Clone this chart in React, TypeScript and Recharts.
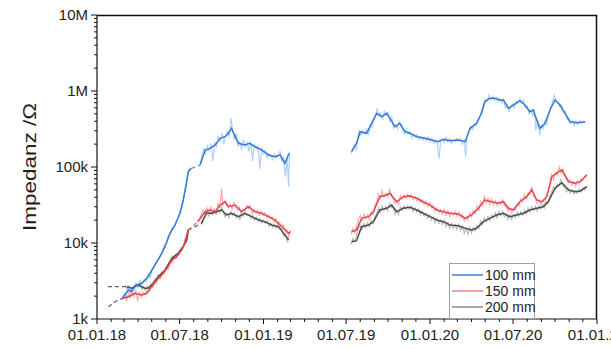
import { LineChart, Line, XAxis, YAxis, Legend } from "recharts";

// x values are days counted from 01.01.18
type Pt = [number, number | null];

const blueSmooth: Pt[] = [
  [55, 1870], [69, 2410], [75, 2290], [83, 2720], [98, 2950], [112, 3600], [127, 5140], [138, 6600],
  [149, 8940], [160, 13400], [171, 17250], [182, 24600], [189, 36800], [196, 61000], [200, 86800],
  [207, 96100], [215, null], [226, 106000], [237, 167500], [248, 176000], [259, 195000], [270, 238600],
  [281, 250600], [288, 277500], [295, 323000], [303, 250600], [310, 205000], [324, 195000], [335, 205000],
  [346, 185000], [361, 167500], [376, 144000], [390, 136700], [401, 144000], [412, 112000], [421, 151400],
  [500, null],
  [558, 158900], [569, 205000], [577, 291400], [591, 277500], [602, 375800], [613, 508900], [624, 459000],
  [635, 508900], [642, 437400], [653, 339100], [664, 375800], [675, 291400], [686, 277500], [701, 250600],
  [719, 238500], [734, 226600], [748, 215200], [759, 231400], [774, 221800], [792, 226600], [807, 215200],
  [818, 323000], [832, 375800], [843, 508900], [850, 722900], [861, 801700], [872, 801700], [883, 761300],
  [891, 761300], [902, 592100], [913, 654300], [927, 745300], [938, 654300], [949, 534100], [956, 562300],
  [964, 415400], [971, 323000], [982, 375800], [993, 562300], [1004, 761300], [1015, 654300], [1026, 508900],
  [1037, 394600], [1052, 382700], [1070, 394600],
];

const redSmooth: Pt[] = [
  [57, 1870], [69, 1965], [83, 2180], [98, 2070], [109, 2180], [120, 2660], [131, 3260], [142, 3790],
  [153, 4650], [164, 5975], [175, 6600], [186, 8090], [193, 10400], [200, 14800], [210, null],
  [221, 19070], [237, 25800], [248, 27200], [259, 25800], [270, 31600], [281, 34900], [288, 30000],
  [303, 31600], [317, 25800], [332, 30000], [346, 25800], [361, 24600], [376, 22200], [390, 20070],
  [405, 16400], [420, 13400], [424, 14100], [500, null],
  [558, 14100], [569, 14800], [580, 21130], [595, 22200], [606, 25800], [620, 40670], [635, 42810],
  [642, 45080], [657, 34900], [671, 40670], [686, 41540], [701, 38740], [715, 34900], [730, 31600],
  [745, 27200], [759, 25800], [774, 24600], [792, 24070], [807, 21130], [821, 23350], [836, 28610],
  [850, 36800], [865, 34900], [880, 33300], [891, 34900], [902, 28610], [913, 27200], [927, 34900],
  [942, 40670], [953, 49820], [964, 36800], [975, 34900], [986, 40670], [997, 74530], [1012, 86800],
  [1019, 91300], [1034, 64060], [1048, 61040], [1059, 64060], [1074, 78470],
];

const greySmooth: Pt[] = [
  [65, 2660], [76, 2535], [90, 2800], [105, 2535], [112, 2535], [123, 2950], [134, 3600], [149, 4410],
  [164, 6290], [178, 7320], [189, 8940], [197, 10950], [200, 14800], [215, null], [229, 18160],
  [240, 24600], [251, 24600], [262, 25800], [273, 27200], [284, 23350], [295, 24600], [310, 22200],
  [324, 24600], [339, 22200], [354, 20070], [368, 19070], [383, 17250], [398, 16400], [409, 13400],
  [420, 10950], [500, null],
  [558, 10400], [569, 10720], [580, 16400], [595, 17250], [606, 19070], [620, 27200], [635, 28610],
  [646, 31600], [657, 25800], [671, 28610], [686, 29500], [701, 27200], [715, 24600], [730, 22200],
  [745, 20070], [759, 19070], [774, 17250], [792, 16890], [807, 15610], [821, 14800], [832, 15610],
  [847, 19070], [861, 21130], [876, 23350], [891, 24600], [905, 22200], [920, 23350], [935, 24600],
  [949, 27200], [964, 28610], [978, 30030], [989, 34900], [1004, 52450], [1019, 62160], [1034, 49820],
  [1048, 47320], [1059, 48330], [1074, 55060],
];

// bridged gaps in the logger data
const blueDash: Pt[] = [[25, 1450], [40, 1700], [55, 1870], [56, null], [207, 96100], [226, 106000]];
const redDash: Pt[] = [[25, 1450], [40, 1700], [57, 1870], [58, null], [200, 14800], [221, 19070]];
const greyDash: Pt[] = [[24, 2660], [65, 2660], [66, null], [200, 14800], [229, 18160]];

// raw readings (faint)
const blueRaw: Pt[] = [
  [55, 1800], [60, 2150], [64, 2000], [68, 2600], [72, 2200], [76, 2500], [80, 2350], [85, 3000],
  [89, 2600], [94, 3200], [99, 2800], [103, 3300], [108, 3100], [112, 3900], [117, 3500], [121, 4500],
  [125, 4900], [130, 5600], [134, 5900], [139, 7000], [143, 7300], [147, 9500], [152, 9800], [156, 12500],
  [161, 13000], [165, 16000], [170, 16200], [174, 19500], [179, 22000], [183, 27500], [187, 30000],
  [191, 42000], [194, 52000], [198, 72000], [202, 95000], [206, 90000], [215, null],
  [226, 110000], [230, 140000], [234, 175000], [238, 150000], [242, 190000], [246, 160000], [250, 205000],
  [254, 120000], [258, 210000], [262, 185000], [266, 260000], [270, 220000], [274, 280000], [278, 200000],
  [282, 265000], [286, 300000], [290, 250000], [294, 440000], [297, 300000], [301, 230000], [305, 280000],
  [309, 190000], [313, 215000], [317, 170000], [321, 230000], [325, 185000], [329, 210000], [333, 160000],
  [337, 215000], [341, 120000], [345, 200000], [349, 175000], [353, 190000], [357, 95000], [361, 180000],
  [365, 150000], [369, 165000], [373, 130000], [377, 150000], [381, 140000], [385, 125000], [389, 150000],
  [393, 130000], [397, 145000], [401, 160000], [405, 120000], [409, 135000], [413, 75000], [417, 130000],
  [420, 55000], [422, 160000], [500, null],
  [557, 150000], [561, 175000], [565, 200000], [568, 165000], [572, 240000], [575, 310000], [579, 260000],
  [583, 300000], [587, 270000], [591, 320000], [595, 260000], [599, 350000], [603, 330000], [607, 430000],
  [611, 470000], [614, 600000], [618, 480000], [622, 520000], [626, 420000], [630, 540000], [634, 480000],
  [638, 520000], [642, 400000], [646, 450000], [650, 320000], [654, 360000], [658, 320000], [662, 400000],
  [666, 350000], [670, 310000], [674, 270000], [678, 320000], [682, 270000], [686, 290000], [690, 240000],
  [694, 270000], [698, 250000], [702, 265000], [706, 230000], [710, 250000], [714, 225000], [718, 245000],
  [722, 220000], [726, 250000], [730, 215000], [734, 240000], [738, 205000], [742, 225000], [746, 200000],
  [750, 130000], [753, 215000], [757, 230000], [761, 210000], [765, 245000], [769, 215000], [773, 235000],
  [777, 205000], [781, 230000], [785, 215000], [789, 240000], [793, 220000], [797, 235000], [801, 200000],
  [805, 225000], [808, 135000], [811, 250000], [815, 300000], [819, 340000], [823, 310000], [827, 370000],
  [831, 350000], [835, 420000], [839, 470000], [843, 560000], [847, 650000], [851, 780000], [855, 720000],
  [859, 880000], [863, 760000], [867, 850000], [871, 740000], [875, 830000], [879, 720000], [883, 800000],
  [887, 700000], [891, 780000], [895, 600000], [899, 650000], [903, 540000], [907, 620000], [911, 680000],
  [915, 600000], [919, 720000], [923, 690000], [927, 800000], [931, 700000], [935, 760000], [939, 600000],
  [943, 640000], [947, 500000], [951, 560000], [955, 470000], [959, 580000], [962, 300000], [966, 420000],
  [970, 260000], [974, 350000], [978, 320000], [982, 400000], [986, 360000], [990, 480000], [994, 600000],
  [998, 700000], [1002, 880000], [1006, 760000], [1010, 700000], [1014, 620000], [1018, 660000],
  [1022, 520000], [1026, 540000], [1030, 430000], [1034, 410000], [1038, 370000], [1042, 410000],
  [1046, 350000], [1050, 400000], [1054, 360000], [1058, 410000], [1062, 370000], [1066, 400000],
  [1070, 380000],
];

const redRaw: Pt[] = [
  [57, 1850], [61, 2100], [65, 1750], [69, 2200], [73, 1900], [77, 2300], [81, 2000], [85, 2400],
  [89, 1700], [93, 2300], [97, 1950], [101, 2250], [106, 2100], [110, 2400], [114, 2300], [118, 2900],
  [122, 2600], [127, 3300], [131, 3000], [135, 3600], [139, 3400], [144, 4100], [148, 3900], [152, 4800],
  [156, 4500], [161, 5700], [165, 5500], [169, 6600], [173, 6200], [177, 7200], [181, 7600], [185, 8800],
  [189, 8500], [193, 11500], [197, 12500], [200, 15500], [210, null],
  [221, 19500], [225, 21000], [229, 24000], [233, 27500], [237, 24500], [241, 29000], [245, 25000],
  [249, 30000], [253, 26000], [257, 28000], [261, 24500], [265, 33000], [269, 29000], [273, 52000],
  [276, 31000], [280, 36000], [284, 32000], [288, 29000], [292, 33000], [296, 28000], [300, 34000],
  [304, 30000], [308, 27000], [312, 29500], [316, 24000], [320, 28000], [324, 26500], [328, 31500],
  [332, 28000], [336, 31000], [340, 24000], [344, 27500], [348, 25500], [352, 27000], [356, 23500],
  [360, 26000], [364, 23000], [368, 25000], [372, 21500], [376, 23500], [380, 21000], [384, 22500],
  [388, 19000], [392, 21000], [396, 17500], [400, 19000], [404, 16500], [408, 17500], [412, 14500],
  [416, 15000], [420, 12000], [424, 14500], [500, null],
  [557, 13000], [561, 15500], [565, 13500], [569, 16500], [573, 20500], [577, 23000], [581, 19500],
  [585, 24000], [589, 21000], [593, 23500], [597, 20500], [601, 26000], [605, 23500], [609, 31000],
  [613, 35000], [617, 44000], [621, 38000], [625, 48000], [629, 40000], [633, 45000], [637, 41000],
  [641, 52000], [645, 42000], [649, 38000], [653, 33000], [657, 36000], [661, 32000], [665, 42000],
  [669, 38000], [673, 43000], [677, 39000], [681, 44000], [685, 40000], [689, 43000], [693, 37000],
  [697, 41000], [701, 36000], [705, 39000], [709, 34000], [713, 37000], [717, 32000], [721, 35000],
  [725, 30000], [729, 34000], [733, 29000], [737, 31000], [741, 26000], [745, 29000], [749, 25000],
  [753, 27500], [757, 24000], [761, 28000], [765, 23000], [769, 26500], [773, 22500], [777, 25500],
  [781, 23000], [785, 26000], [789, 22500], [793, 25500], [797, 22000], [801, 24000], [805, 19500],
  [809, 22000], [813, 20000], [817, 25000], [821, 22000], [825, 27000], [829, 24500], [833, 31000],
  [837, 27000], [841, 35000], [845, 31000], [849, 42000], [853, 34000], [857, 39000], [861, 32000],
  [865, 38000], [869, 31000], [873, 36000], [877, 31000], [881, 35000], [885, 32000], [889, 37000],
  [893, 31000], [897, 30000], [901, 26000], [905, 29000], [909, 25000], [913, 29000], [917, 27000],
  [921, 33000], [925, 31000], [929, 38000], [933, 35000], [937, 43000], [941, 38000], [945, 46000],
  [949, 44000], [953, 55000], [957, 42000], [961, 38000], [965, 33000], [969, 37000], [973, 32000],
  [977, 36000], [981, 34000], [985, 42000], [989, 48000], [993, 60000], [997, 80000], [1001, 68000],
  [1005, 85000], [1009, 78000], [1013, 100000], [1017, 84000], [1021, 95000], [1025, 76000],
  [1029, 70000], [1033, 62000], [1037, 68000], [1041, 58000], [1045, 64000], [1049, 56000],
  [1053, 66000], [1057, 60000], [1061, 70000], [1065, 66000], [1069, 76000], [1073, 80000],
];

const greyRaw: Pt[] = [
  [62, 2800], [66, 2450], [70, 2750], [74, 2400], [78, 2650], [82, 2450], [86, 2950], [90, 2650],
  [94, 2900], [98, 2450], [102, 2650], [106, 2400], [110, 2700], [114, 2500], [118, 2800], [122, 2750],
  [126, 3200], [130, 3100], [134, 3800], [138, 3500], [142, 4100], [146, 4000], [150, 4700], [154, 4600],
  [158, 5500], [162, 5800], [166, 6700], [170, 6500], [174, 7200], [178, 7000], [182, 7800], [186, 8400],
  [190, 9300], [194, 10000], [197, 11500], [200, 14000], [215, null],
  [229, 17500], [233, 21000], [237, 23000], [241, 26000], [245, 22500], [249, 25500], [253, 23500],
  [257, 26500], [261, 24000], [265, 27000], [269, 25000], [273, 29500], [277, 25500], [281, 22000],
  [285, 24500], [289, 21500], [293, 26000], [297, 23000], [301, 25000], [305, 21500], [309, 23000],
  [313, 20500], [317, 23500], [321, 22500], [325, 25500], [329, 23000], [333, 24000], [337, 21000],
  [341, 23000], [345, 20000], [349, 22000], [353, 19500], [357, 21000], [361, 18500], [365, 20000],
  [369, 18000], [373, 19500], [377, 16500], [381, 18000], [385, 16000], [389, 17500], [393, 15500],
  [397, 17000], [401, 15000], [405, 15500], [409, 12500], [413, 13500], [417, 10500], [420, 11500],
  [500, null],
  [557, 9500], [561, 11500], [565, 10500], [569, 12500], [573, 15500], [577, 17500], [581, 15000],
  [585, 18000], [589, 16000], [593, 18500], [597, 16500], [601, 20000], [605, 18000], [609, 22000],
  [613, 24500], [617, 29000], [621, 25000], [625, 31000], [629, 27000], [633, 30000], [637, 26500],
  [641, 33000], [645, 29000], [649, 30000], [653, 24000], [657, 27000], [661, 23500], [665, 30000],
  [669, 27000], [673, 31000], [677, 28000], [681, 31000], [685, 28000], [689, 30500], [693, 26000],
  [697, 29000], [701, 25500], [705, 27500], [709, 23500], [713, 26000], [717, 22500], [721, 24500],
  [725, 21000], [729, 23500], [733, 20000], [737, 22000], [741, 18500], [745, 21000], [749, 18000],
  [753, 20000], [757, 17500], [761, 20000], [765, 16500], [769, 18500], [773, 15500], [777, 18000],
  [781, 15500], [785, 17500], [789, 15000], [793, 17500], [797, 14500], [801, 16500], [805, 13500],
  [809, 15500], [813, 13000], [817, 16000], [821, 13500], [825, 16000], [829, 14500], [833, 17000],
  [837, 15500], [841, 19500], [845, 17500], [849, 21500], [853, 19000], [857, 22500], [861, 19500],
  [865, 23500], [869, 21000], [873, 25000], [877, 21500], [881, 26000], [885, 23000], [889, 26000],
  [893, 22000], [897, 24000], [901, 20500], [905, 23500], [909, 20500], [913, 24000], [917, 21500],
  [921, 25500], [925, 22500], [929, 26000], [933, 23000], [937, 27000], [941, 24000], [945, 29000],
  [949, 25500], [953, 30000], [957, 27000], [961, 30500], [965, 26500], [969, 31000], [973, 28000],
  [977, 32000], [981, 29000], [985, 35000], [989, 33000], [993, 42000], [997, 48000], [1001, 55000],
  [1005, 52000], [1009, 60000], [1013, 58000], [1017, 68000], [1021, 57000], [1025, 54000],
  [1029, 47000], [1033, 52000], [1037, 45000], [1041, 50000], [1045, 44000], [1049, 49000],
  [1053, 45000], [1057, 51000], [1061, 47000], [1065, 53000], [1069, 50000], [1073, 56000],
];

const legendLabels = ["100 mm", "150 mm", "200 mm"];
const legendColors = ["#3d7fd6", "#e8868a", "#8a8a8a"];

const yMajor = [1e3, 1e4, 1e5, 1e6, 1e7];
const yMajorLabels = ["1k", "10k", "100k", "1M", "10M"];
const yTicks: number[] = [];
yMajor.slice(0, 4).forEach((dec) => {
  for (let k = 1; k < 10; k++) yTicks.push(k * dec);
});
yTicks.push(1e7);

const START = Date.UTC(2018, 0, 1);
const xTicks: number[] = [];
const xLabels = new Map<number, string>();
for (let y = 2018; y <= 2021; y++) {
  for (let m = 0; m < 12; m++) {
    if (y === 2021 && m > 0) break;
    const d = Math.round((Date.UTC(y, m, 1) - START) / 86400000);
    xTicks.push(d);
    if (m === 0 || m === 6) {
      xLabels.set(d, `01.${m === 0 ? "01" : "07"}.${String(y).slice(2)}`);
    }
  }
}
const X_END = xTicks[xTicks.length - 1];

const rows = (a: Pt[]) => a.map(([d, v]) => ({ d, v }));

const FONT = "'Liberation Sans', Arial, sans-serif";

// chart layout
const W = 611;
const H = 349;
const MARGIN = { top: 15, right: 14, left: 0, bottom: 0 };
const Y_AXIS_W = 97;
const X_AXIS_H = 30;

const XTick = (props: any) => {
  const { x, y, payload } = props;
  const lab = xLabels.get(payload.value);
  return (
    <g>
      <line x1={x} x2={x} y1={y} y2={y + (lab ? 5 : 3)} stroke="#111" strokeWidth={1} />
      {lab && (
        <text x={x} y={y + 21} textAnchor="middle" fontSize={15} fill="#222" fontFamily={FONT}>
          {lab}
        </text>
      )}
    </g>
  );
};

const YTick = (props: any) => {
  const { x, y, payload } = props;
  const i = yMajor.indexOf(payload.value);
  return (
    <g>
      <line x1={x} x2={x - (i >= 0 ? 6 : 3)} y1={y} y2={y} stroke="#111" strokeWidth={1} />
      {i >= 0 && (
        <text x={x - 9} y={y + 5} textAnchor="end" fontSize={15} fill="#222" fontFamily={FONT}>
          {yMajorLabels[i]}
        </text>
      )}
    </g>
  );
};

const YLabel = (props: any) => {
  const { viewBox } = props;
  const cx = viewBox.x + 36;
  const cy = viewBox.y + viewBox.height / 2;
  return (
    <text
      x={cx}
      y={cy}
      transform={`rotate(-90 ${cx} ${cy})`}
      textAnchor="middle"
      fontSize={18}
      textLength={128}
      lengthAdjust="spacingAndGlyphs"
      fill="#222"
      fontFamily={FONT}
    >
      Impedanz /Ω
    </text>
  );
};

const LegendBox = () => (
  <div
    style={{
      width: 86,
      boxSizing: "border-box",
      border: "1px solid #a0a0a0",
      background: "#fff",
      padding: "3px 2px",
      fontFamily: FONT,
      fontSize: 14,
      color: "#222",
      lineHeight: "16px",
      whiteSpace: "nowrap",
    }}
  >
    {legendLabels.map((l, i) => (
      <div key={l} style={{ display: "flex", alignItems: "center" }}>
        <svg width={31} height={4} style={{ flexShrink: 0, marginRight: 2 }}>
          <line x1={0} x2={31} y1={2} y2={2} stroke={legendColors[i]} strokeWidth={1.5} />
        </svg>
        <span>{l}</span>
      </div>
    ))}
  </div>
);

const lineProps = { dataKey: "v", dot: false, isAnimationActive: false, connectNulls: false } as const;

export default function App() {
  // plot frame box, derived from the chart layout constants
  const plotLeft = MARGIN.left + Y_AXIS_W;
  const plotTop = MARGIN.top;
  const plotRight = W - MARGIN.right;
  const plotBottom = H - MARGIN.bottom - X_AXIS_H;
  return (
    <div style={{ position: "absolute", left: 0, top: 0, width: W, height: H, background: "#fff" }}>
      <LineChart width={W} height={H} margin={MARGIN}>
        <XAxis
          dataKey="d"
          type="number"
          domain={[0, X_END]}
          ticks={xTicks}
          interval={0}
          allowDataOverflow
          height={X_AXIS_H}
          tickSize={0}
          tickMargin={0}
          tick={<XTick />}
          axisLine={{ stroke: "#111", strokeWidth: 1.2 }}
        />
        <YAxis
          type="number"
          scale="log"
          domain={[1e3, 1e7]}
          ticks={yTicks}
          interval={0}
          allowDataOverflow
          width={Y_AXIS_W}
          tickSize={0}
          tickMargin={0}
          tick={<YTick />}
          axisLine={{ stroke: "#111", strokeWidth: 1.2 }}
          label={{ content: <YLabel /> }}
        />
        <Legend
          layout="vertical"
          align="center"
          verticalAlign="middle"
          wrapperStyle={{ left: 449, top: 263, width: 86 }}
          content={<LegendBox />}
        />
        <Line {...lineProps} data={rows(greyRaw)} stroke="#b0b0b0" strokeWidth={1.2} strokeOpacity={0.85} />
        <Line {...lineProps} data={rows(redRaw)} stroke="#f3a0a4" strokeWidth={1.2} strokeOpacity={0.85} />
        <Line {...lineProps} data={rows(blueRaw)} stroke="#a4c9f3" strokeWidth={1.2} strokeOpacity={0.85} />
        <Line {...lineProps} data={rows(greyDash)} stroke="#666" strokeWidth={1.3} strokeDasharray="4 3" />
        <Line {...lineProps} data={rows(redDash)} stroke="#e0525a" strokeWidth={1.3} strokeDasharray="4 3" strokeOpacity={0.8} />
        <Line {...lineProps} data={rows(blueDash)} stroke="#3d7fd6" strokeWidth={1.3} strokeDasharray="4 3" strokeOpacity={0.8} />
        <Line {...lineProps} data={rows(greySmooth)} stroke="#4d4d4d" strokeWidth={1.5} />
        <Line {...lineProps} data={rows(redSmooth)} stroke="#e8444c" strokeWidth={1.5} />
        <Line {...lineProps} data={rows(blueSmooth)} stroke="#3479d6" strokeWidth={1.5} />
      </LineChart>
      <svg
        width={W}
        height={H}
        style={{ position: "absolute", left: 0, top: 0, zIndex: 10, pointerEvents: "none" }}
      >
        <polyline
          points={`${plotLeft},${plotTop + 0.5} ${plotRight - 0.5},${plotTop + 0.5} ${plotRight - 0.5},${plotBottom}`}
          fill="none"
          stroke="#111"
          strokeWidth={1.5}
        />
      </svg>
    </div>
  );
}
